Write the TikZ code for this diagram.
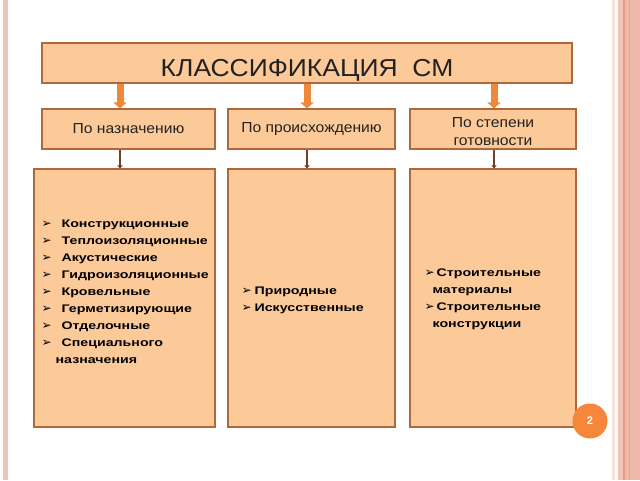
\documentclass[tikz,border=0pt]{standalone}
\usepackage{fontspec}
\setmainfont{Liberation Sans}
\newfontfamily\titlefont[FakeStretch=1.08]{Liberation Sans}
\newfontfamily\headfont[FakeStretch=1.08]{Liberation Sans}
\newfontfamily\listfont[FakeStretch=1.29]{Liberation Sans}
\newfontfamily\symfont{DejaVu Sans}
\usetikzlibrary{arrows.meta,calc}
\definecolor{peach}{HTML}{FCC999}
\definecolor{boxline}{HTML}{B0683A}
\definecolor{orarrow}{HTML}{F0883A}
\definecolor{brarrow}{HTML}{6B4226}
\definecolor{badgec}{HTML}{F5863A}
\definecolor{stripeA}{HTML}{F3C3B5}
\definecolor{stripeB}{HTML}{F9E1D9}
\definecolor{stripeC}{HTML}{EDB9A6}
\definecolor{stripeD}{HTML}{E39C86}
\definecolor{txt}{HTML}{222222}
\newcommand{\bul}[1]{\makebox[#1][l]{\symfont\fontsize{12}{17}\selectfont ➢}}
\begin{document}
\begin{tikzpicture}[x=1pt,y=-1pt,
  box/.style={draw=boxline, line width=1.1pt, fill=peach, inner sep=0pt, text=txt},
  head/.style={font=\headfont\fontsize{14.5}{18}\selectfont, align=center},
  listtext/.style={inner sep=0pt, align=left, text=black, font=\listfont\bfseries\fontsize{11}{17}\selectfont},
  bigarrow/.style={draw=orarrow, line width=7pt, -{Triangle[width=13pt,length=6pt]}},
  smallarrow/.style={draw=brarrow, line width=1.8pt, -{Triangle[width=5pt,length=3pt]}},
  badge/.style={circle, fill=badgec, minimum size=35pt, inner sep=0pt, text=white, font=\bfseries\fontsize{11}{11}\selectfont}]
\useasboundingbox (0,0) rectangle (640,480);
\fill[white] (0,0) rectangle (640,480);
% page border stripes
\fill[stripeA] (2.5,0) rectangle (7.5,480);
\fill[stripeB] (612,0) rectangle (615,480);
\fill[stripeA] (618,0) rectangle (623,480);
\fill[stripeD] (623,0) rectangle (625,480);
\fill[stripeC] (625,0) rectangle (640,480);
\draw[stripeD!60!stripeC, line width=0.6pt] (629,0) -- (629,480);

% title
\node[box, minimum width=530pt, text height=33pt, text depth=7pt, font=\titlefont\fontsize{24.5}{24.5}\selectfont] (top) at (307,63) {КЛАССИФИКАЦИЯ\ \ СМ};

% headers
\node[box, head, minimum width=173pt, minimum height=40pt] (h1) at (128.5,129) {По назначению};
\node[box, head, minimum width=167pt, minimum height=40pt] (h2) at (311.5,129) {По происхождению};
\node[box, head, minimum width=166pt, text height=36pt, text depth=4pt] (h3) at (493,129) {По степени\\готовности};

% content boxes
\node[box, minimum width=181pt, minimum height=258pt] (c1) at (124.5,298) {};
\node[box, minimum width=167pt, minimum height=258pt] (c2) at (311.5,298) {};
\node[box, minimum width=166pt, minimum height=258pt] (c3) at (493,298) {};

% arrow positions
\coordinate (a1) at (120,0);
\coordinate (a2) at (307,0);
\coordinate (a3) at (494,0);

\draw[bigarrow] (top.south -| a1) -- (h1.north -| a1);
\draw[bigarrow] (top.south -| a2) -- (h2.north -| a2);
\draw[bigarrow] (top.south -| a3) -- (h3.north -| a3);

\draw[smallarrow] (h1.south -| a1) -- (c1.north -| a1);
\draw[smallarrow] (h2.south -| a2) -- (c2.north -| a2);
\draw[smallarrow] (h3.south -| a3) -- (c3.north -| a3);

% lists (anchored at the baseline of the last line)
\node[listtext, anchor=base west] (l1) at ($(c1.north west)+(8,195)$) {%
\bul{20pt}Конструкционные\\
\bul{20pt}Теплоизоляционные\\
\bul{20pt}Акустические\\
\bul{20pt}Гидроизоляционные\\
\bul{20pt}Кровельные\\
\bul{20pt}Герметизирующие\\
\bul{20pt}Отделочные\\
\bul{20pt}Специального\\
\hspace*{14pt}назначения};

\node[listtext, anchor=base west] (l2) at ($(c2.north west)+(14,143)$) {%
\bul{13pt}Природные\\
\bul{13pt}Искусственные};

\node[listtext, anchor=base west] (l3) at ($(c3.north west)+(15,159)$) {%
\bul{12pt}Строительные\\
\hspace*{8pt}материалы\\
\bul{12pt}Строительные\\
\hspace*{8pt}конструкции};

% page badge
\node[badge] (pg) at (590,421) {2};
\end{tikzpicture}
\end{document}
